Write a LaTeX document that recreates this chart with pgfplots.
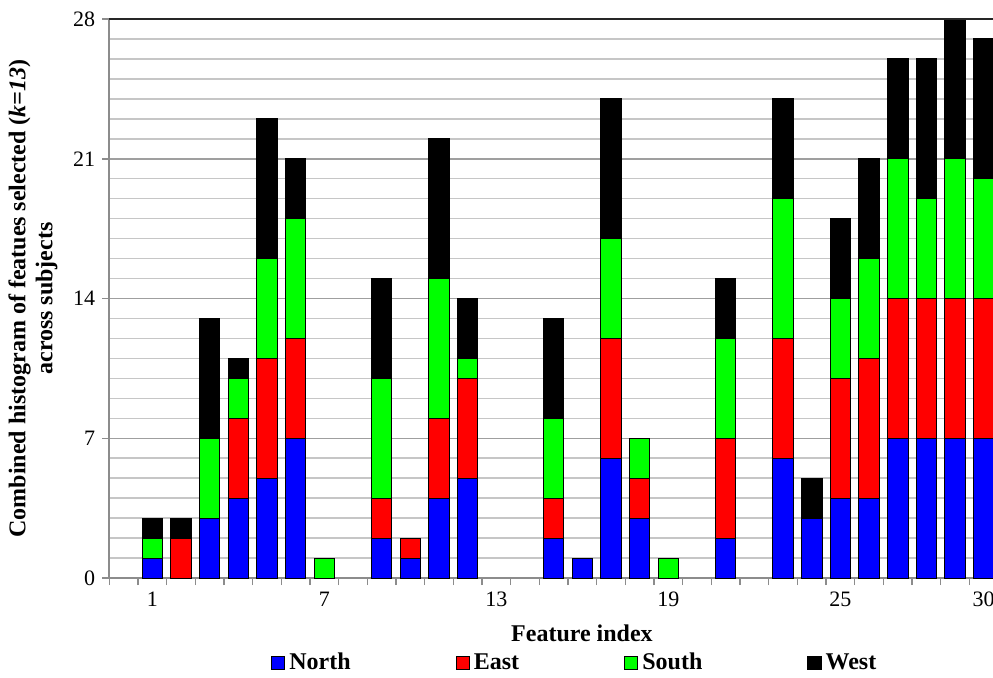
\documentclass[border=0pt]{standalone}
\usepackage{fontspec}
\IfFontExistsTF{LiberationSerif-Regular.ttf}
  {\setmainfont{LiberationSerif}[Extension=.ttf, UprightFont=*-Regular,
     BoldFont=*-Bold, ItalicFont=*-Italic, BoldItalicFont=*-BoldItalic]}
  {\setmainfont{Liberation Serif}}
\usepackage{pgfplots}
\pgfplotsset{compat=1.18}
\usepackage{pgfplotstable}

% Number of times each feature was selected, per region
\pgfplotstableread{
x  N E S W
1  1 0 1 1
2  0 2 0 1
3  3 0 4 6
4  4 4 2 1
5  5 6 5 7
6  7 5 6 3
7  0 0 1 0
9  2 2 6 5
10 1 1 0 0
11 4 4 7 7
12 5 5 1 3
15 2 2 4 5
16 1 0 0 0
17 6 6 5 7
18 3 2 2 0
19 0 0 1 0
21 2 5 5 3
23 6 6 7 5
24 3 0 0 2
25 4 6 4 4
26 4 7 5 5
27 7 7 7 5
28 7 7 5 7
29 7 7 7 7
30 7 7 6 7
}\featuretable

\definecolor{nblue}{RGB}{0,0,255}
\definecolor{ered}{RGB}{255,0,0}
\definecolor{sgreen}{RGB}{0,255,0}

\begin{document}
\begin{tikzpicture}
\begin{axis}[
  scale only axis,
  width=473.05pt, height=279.5pt,
  xmin=-0.5, xmax=32.5,
  ymin=0, ymax=28,
  ybar stacked,
  bar width=10.3pt,
  axis x line*=bottom, axis y line*=left,
  axis line style={-, draw=gray!90, line width=1pt},
  xtick={1,7,13,19,25,30},
  major x tick style={draw=none},
  minor xtick={-0.5,0.5,...,32.5},
  ytick={0,7,14,21,28},
  minor ytick={1,...,27},
  minor y tick style={draw=none},
  tick align=outside,
  major tick length=3.5pt, minor tick length=3.5pt,
  tick style={gray!90, line width=0.75pt},
  ymajorgrids, yminorgrids,
  major grid style={gray!75, line width=0.75pt},
  minor grid style={gray!45, line width=0.75pt},
  /pgf/number format/assume math mode=true,
  tick label style={font=\fontsize{11}{13}\selectfont},
  xlabel={Feature index},
  xlabel style={at={(axis description cs:0.4996,-0.0984)}, anchor=center,
    font=\fontsize{12}{14}\selectfont\bfseries},
  ylabel={Combined histogram of featues selected (\textit{k=13})\\across subjects},
  ylabel style={at={(axis description cs:-0.0806,0.5)}, anchor=center, align=center,
    font=\fontsize{12}{13.5}\selectfont\bfseries},
  legend columns=4,
  legend style={at={(axis description cs:0.493,-0.152)}, anchor=center, draw=none,
    font=\fontsize{12}{14}\selectfont\bfseries,
    /tikz/every even column/.append style={column sep=50.5pt}},
  legend image code/.code={\draw[#1, draw=black, line width=0.5pt] (0pt,-3.3pt) rectangle (6.6pt,3.3pt);},
  after end axis/.code={\draw[black!85, line width=1pt] (rel axis cs:0,1) -- (rel axis cs:1,1);},
]
\addplot[fill=nblue, draw=black, line width=0.5pt] table[x=x, y=N] {\featuretable};
\addplot[fill=ered, draw=black, line width=0.5pt] table[x=x, y=E] {\featuretable};
\addplot[fill=sgreen, draw=black, line width=0.5pt] table[x=x, y=S] {\featuretable};
\addplot[fill=black, draw=black, line width=0.5pt] table[x=x, y=W] {\featuretable};
\legend{North, East, South, West}
\coordinate (ll) at (rel axis cs:0,0);
\end{axis}
\pgfresetboundingbox
\path[use as bounding box] ([shift={(-54.65pt,-49.5pt)}]ll) rectangle ([shift={(441.85pt,289pt)}]ll);
\end{tikzpicture}
\end{document}
